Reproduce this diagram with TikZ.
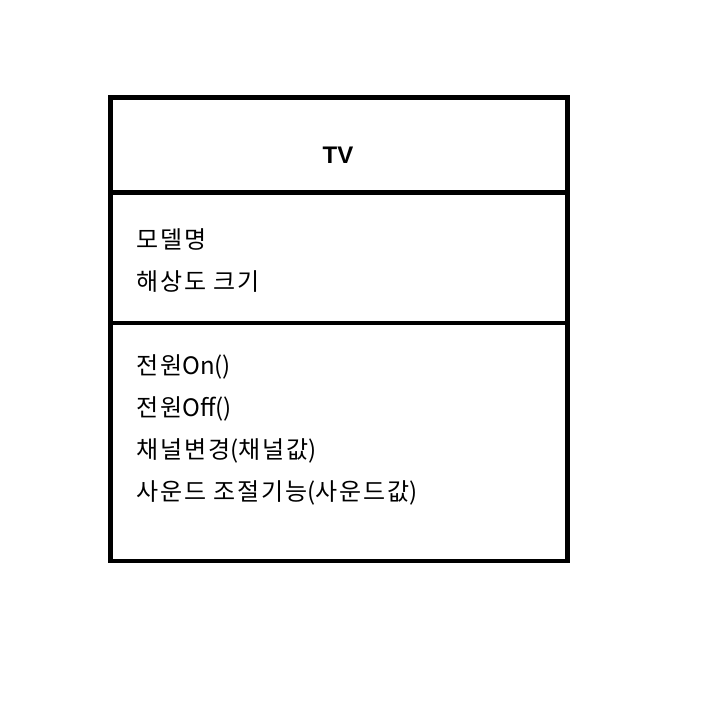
\documentclass[tikz,border=0pt]{standalone}
\usepackage{fontspec}
\setmainfont{Noto Sans CJK KR}[LetterSpace=8]
\newfontfamily\lat{Noto Sans CJK KR}
\newfontfamily\titlefont{Liberation Sans}
\begin{document}
\begin{tikzpicture}[x=1pt,y=-1pt,
  frame/.style={line width=4.5pt,line join=miter},
  item/.style={anchor=base west,inner sep=0pt,font=\fontsize{24}{27}\selectfont},
  title/.style={inner sep=0pt,font=\titlefont\bfseries\fontsize{24}{26}\selectfont}]
\useasboundingbox (0,0) rectangle (720,720);
\coordinate (tl) at (110.5,97.5);
\coordinate (br) at (567.5,561);
\draw[frame] (tl) rectangle (br);
\coordinate (d1l) at (110.5,192.5);
\coordinate (d1r) at (567.5,192.5);
\coordinate (d2l) at (110.5,323);
\coordinate (d2r) at (567.5,323);
\draw[frame] (d1l) -- (d1r);
\draw[frame] (d2l) -- (d2r);
\node[title] (tv) at (338,155) {TV};
\node[item] (a1) at (136,248) {모델명};
\node[item] (a2) at (136,290) {해상도 크기};
\node[item] (m1) at (136,374) {전원{\lat On()}};
\node[item] (m2) at (136,416) {전원{\lat Off()}};
\node[item] (m3) at (136,458) {채널변경{\lat (}채널값{\lat )}};
\node[item] (m4) at (136,500) {사운드 조절기능{\lat (}사운드값{\lat )}};
\end{tikzpicture}
\end{document}
